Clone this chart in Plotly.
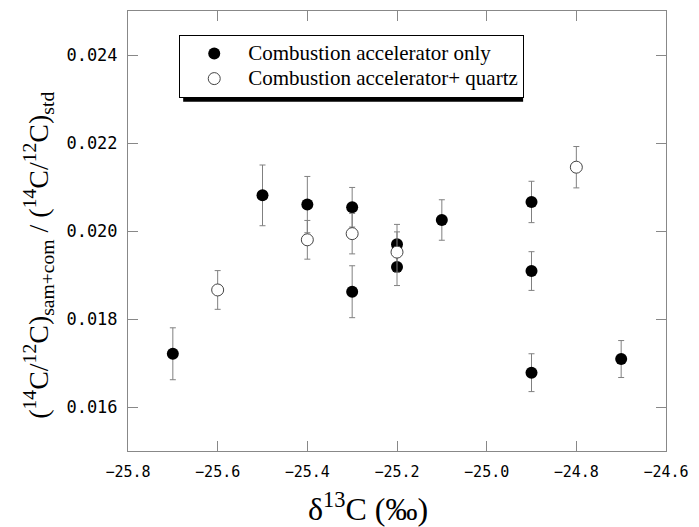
import plotly.graph_objects as go

# Combustion accelerator only (filled)
x_only = [-25.7, -25.5, -25.4, -25.3, -25.3, -25.2, -25.2, -25.1, -24.9, -24.9, -24.9, -24.7]
y_only = [0.01721, 0.02081, 0.02060, 0.02054, 0.01862, 0.01970, 0.01918, 0.02025, 0.02066, 0.01909, 0.01678, 0.01709]
e_only = [0.00059, 0.00069, 0.00064, 0.00045, 0.00059, 0.00045, 0.00042, 0.00046, 0.00047, 0.00044, 0.00043, 0.00042]

# Combustion accelerator + quartz (open)
x_qz = [-25.6, -25.4, -25.3, -25.2, -24.8]
y_qz = [0.01866, 0.01980, 0.01994, 0.01952, 0.02145]
e_qz = [0.00044, 0.00044, 0.00046, 0.00046, 0.00047]

x_ticks = [-25.8, -25.6, -25.4, -25.2, -25.0, -24.8, -24.6]
x_ticklabels = ["−25.8", "−25.6", "−25.4", "−25.2", "−25.0", "−24.8", "−24.6"]
y_ticks = [0.016, 0.018, 0.020, 0.022, 0.024]
y_ticklabels = ["0.016", "0.018", "0.020", "0.022", "0.024"]

names = ["Combustion accelerator only", "Combustion accelerator+ quartz"]

# plot-area geometry in page pixels
PL, PR, PT, PB = 128, 674, 10, 451
def px(xp):
    return (xp - PL) / (PR - PL)
def py(yp):
    return (PB - yp) / (PB - PT)

fig = go.Figure()
fig.add_trace(go.Scatter(
    x=x_only, y=y_only, mode="markers",
    name='<span style="font-size:21px">' + names[0] + '</span>',
    marker=dict(size=12, color="black", line=dict(width=0)),
    error_y=dict(type="data", array=e_only, color="#808080", thickness=1, width=3),
))
fig.add_trace(go.Scatter(
    x=x_qz, y=y_qz, mode="markers",
    name='<span style="font-size:21px">' + names[1] + '</span>',
    marker=dict(size=12, color="white", line=dict(width=1, color="#444444")),
    error_y=dict(type="data", array=e_qz, color="#808080", thickness=1, width=3),
))

axis_common = dict(
    showline=True, linecolor="#888888", linewidth=1, mirror="ticks",
    ticks="inside", ticklen=10, tickcolor="#888888", tickwidth=1,
    showgrid=False, zeroline=False,
)

fig.update_xaxes(range=[-25.8, -24.6], tickvals=x_ticks, ticktext=x_ticklabels,
                 tickfont=dict(family="DejaVu Sans Mono", size=15, color="black"),
                 ticklabelstandoff=7, **axis_common)
fig.update_yaxes(range=[0.015, 0.025], tickvals=y_ticks, ticktext=y_ticklabels,
                 tickfont=dict(family="DejaVu Sans Mono", size=17, color="black"),
                 ticklabelstandoff=6, **axis_common)

# x-axis title
fig.add_annotation(
    xref="paper", yref="paper", x=px(372), y=py(507), xanchor="center", yanchor="middle",
    showarrow=False, text="δ<sup>13</sup>C (‰)",
    font=dict(family="Liberation Serif", size=32, color="black"),
)
# y-axis title
fig.add_annotation(
    xref="paper", yref="paper", x=px(37), y=py(255), xanchor="center", yanchor="middle",
    textangle=-90, showarrow=False,
    text="(<sup>14</sup>C/<sup>12</sup>C)<sub>sam+com</sub> / (<sup>14</sup>C/<sup>12</sup>C)<sub>std</sub>",
    font=dict(family="Liberation Serif", size=28, color="black"),
)

# legend shadow
fig.add_shape(type="rect", xref="paper", yref="paper",
              x0=px(184), x1=px(529), y0=py(101), y1=py(38),
              fillcolor="black", line=dict(width=0), layer="above")

fig.update_layout(
    width=699, height=527,
    margin=dict(l=PL, r=699 - PR, t=PT, b=527 - PB),
    plot_bgcolor="white", paper_bgcolor="white",
    showlegend=True,
    legend=dict(x=px(180), y=py(34), xanchor="left", yanchor="top",
                bgcolor="white", bordercolor="black", borderwidth=1,
                font=dict(family="Liberation Serif", size=17, color="black"),
                itemwidth=58, tracegroupgap=0),
)

fig.write_html("out.html", config={"displayModeBar": False},
               post_script="document.body.style.margin='0';document.body.style.overflow='hidden';")
